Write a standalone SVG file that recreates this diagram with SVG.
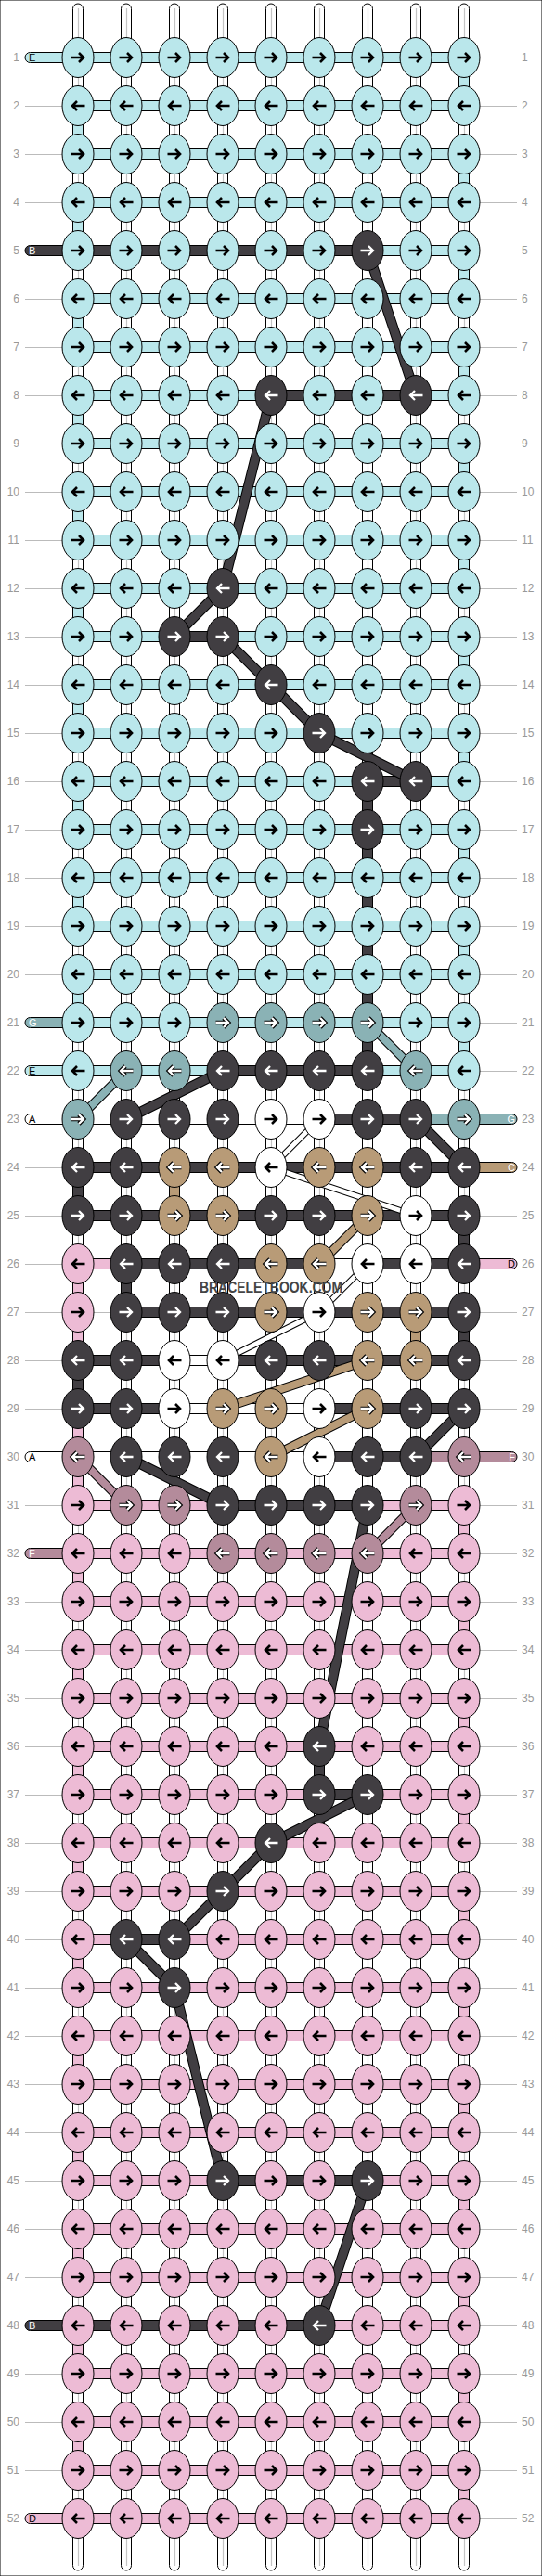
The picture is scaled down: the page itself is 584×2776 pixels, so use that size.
<svg xmlns="http://www.w3.org/2000/svg" xmlns:xlink="http://www.w3.org/1999/xlink" width="584" height="2776" viewBox="0 0 584 2776">
<style>
.C{fill:#bae7eb}.P{fill:#edbbd5}.D{fill:#413e42}.N{fill:#b89b77}.W{fill:#fff}.T{fill:#8ab2b5}.M{fill:#b48b9b}
rect,.sb,.e{stroke:#000;stroke-width:1}
.k{fill:none;stroke:#000;stroke-width:2.6}
.o{fill:none;stroke:#000;stroke-width:4.6}
.w{fill:none;stroke:#fff;stroke-width:2.3}
.lb{font-family:"Liberation Sans",Arial,sans-serif;font-size:12px;fill:#999}
.st{font-family:"Liberation Sans",Arial,sans-serif;font-size:11px}
.ob{fill:none;stroke:#000;stroke-width:11}
.ow{fill:none;stroke:#000;stroke-width:7}
.sD{fill:none;stroke:#413e42;stroke-width:9}
.sT{fill:none;stroke:#8ab2b5;stroke-width:8}
.sN{fill:none;stroke:#b89b77;stroke-width:8}
.sM{fill:none;stroke:#b48b9b;stroke-width:8}
.sW{fill:none;stroke:#fff;stroke-width:5}
.ob2{fill:none;stroke:#000;stroke-width:10}
</style>
<defs>
<path id="ar" d="M-7.5,0H5M1,-5L6,0L1,5"/>
<path id="al" d="M7.5,0H-5M-1,-5L-6,0L-1,5"/>
<ellipse id="E" rx="17" ry="21.5" class="e"/>
<g id="Cr"><use href="#E" class="C"/><use href="#ar" class="k"/></g>
<g id="Cl"><use href="#E" class="C"/><use href="#al" class="k"/></g>
<g id="Pr"><use href="#E" class="P"/><use href="#ar" class="k"/></g>
<g id="Pl"><use href="#E" class="P"/><use href="#al" class="k"/></g>
<g id="Wr"><use href="#E" class="W"/><use href="#ar" class="k"/></g>
<g id="Wl"><use href="#E" class="W"/><use href="#al" class="k"/></g>
<g id="Dr"><use href="#E" class="D"/><use href="#ar" class="w"/></g>
<g id="Dl"><use href="#E" class="D"/><use href="#al" class="w"/></g>
<g id="Nr"><use href="#E" class="N"/><use href="#ar" class="o"/><use href="#ar" class="w"/></g>
<g id="Nl"><use href="#E" class="N"/><use href="#al" class="o"/><use href="#al" class="w"/></g>
<g id="Tr"><use href="#E" class="T"/><use href="#ar" class="o"/><use href="#ar" class="w"/></g>
<g id="Tl"><use href="#E" class="T"/><use href="#al" class="o"/><use href="#al" class="w"/></g>
<g id="Mr"><use href="#E" class="M"/><use href="#ar" class="o"/><use href="#ar" class="w"/></g>
<g id="Ml"><use href="#E" class="M"/><use href="#al" class="o"/><use href="#al" class="w"/></g>
<path id="dD" d="M396,270L448,426M292,426L240,634M240,634L188,686M240,686L292,738M292,738L344,790M344,790L448,842M240,1154L136,1206M448,1206L500,1258M500,1518L448,1570M136,1570L240,1622M396,1622L344,1882M396,1934L292,1986M292,1986L240,2038M240,2038L188,2090M136,2090L188,2142M188,2142L240,2350M396,2350L344,2506"/>
<path id="dT" d="M396,1102L448,1154M136,1154L84,1206"/>
<path id="dN" d="M396,1310L344,1362M396,1466L240,1518M396,1518L292,1570"/>
<path id="dM" d="M84,1570L136,1622M448,1622L396,1674"/>
<path id="dW" d="M344,1206L292,1258M292,1258L448,1310M396,1362L344,1414M344,1414L240,1466"/>
</defs>
<rect width="584" height="2776" fill="#fff" stroke="none"/>
<g id="guides" transform="translate(0,0.5)" fill="none" stroke="#bbb" stroke-width="1">
<path d="M27 62h43M514 62h43M27 114h43M514 114h43M27 166h43M514 166h43M27 218h43M514 218h43M27 270h43M514 270h43M27 322h43M514 322h43M27 374h43M514 374h43M27 426h43M514 426h43M27 478h43M514 478h43M27 530h43M514 530h43M27 582h43M514 582h43M27 634h43M514 634h43M27 686h43M514 686h43M27 738h43M514 738h43M27 790h43M514 790h43M27 842h43M514 842h43M27 894h43M514 894h43M27 946h43M514 946h43M27 998h43M514 998h43M27 1050h43M514 1050h43M27 1102h43M514 1102h43M27 1154h43M514 1154h43M27 1206h43M514 1206h43M27 1258h43M514 1258h43M27 1310h43M514 1310h43M27 1362h43M514 1362h43M27 1414h93M514 1414h43M27 1466h43M514 1466h43M27 1518h43M514 1518h43M27 1570h43M514 1570h43M27 1622h43M514 1622h43M27 1674h43M514 1674h43M27 1726h43M514 1726h43M27 1778h43M514 1778h43M27 1830h43M514 1830h43M27 1882h43M514 1882h43M27 1934h43M514 1934h43M27 1986h43M514 1986h43M27 2038h43M514 2038h43M27 2090h43M514 2090h43M27 2142h43M514 2142h43M27 2194h43M514 2194h43M27 2246h43M514 2246h43M27 2298h43M514 2298h43M27 2350h43M514 2350h43M27 2402h43M514 2402h43M27 2454h43M514 2454h43M27 2506h43M514 2506h43M27 2558h43M514 2558h43M27 2610h43M514 2610h43M27 2662h43M514 2662h43M27 2714h43M514 2714h43"/>
</g>
<g id="connectors">
<g id="strands" class="W">
<rect x="78.5" y="4" width="11" height="2766" rx="5.5"/>
<rect x="130.5" y="4" width="11" height="2766" rx="5.5"/>
<rect x="182.5" y="4" width="11" height="2766" rx="5.5"/>
<rect x="234.5" y="4" width="11" height="2766" rx="5.5"/>
<rect x="286.5" y="4" width="11" height="2766" rx="5.5"/>
<rect x="338.5" y="4" width="11" height="2766" rx="5.5"/>
<rect x="390.5" y="4" width="11" height="2766" rx="5.5"/>
<rect x="442.5" y="4" width="11" height="2766" rx="5.5"/>
<rect x="494.5" y="4" width="11" height="2766" rx="5.5"/>
<path d="M84.5 9V2765M136.5 9V2765M188.5 9V2765M240.5 9V2765M292.5 9V2765M344.5 9V2765M396.5 9V2765M448.5 9V2765M500.5 9V2765" stroke="#c4c4c4" stroke-width="1.2" fill="none"/>
</g>
<g id="rows">
<rect class="C" x="84" y="56.5" width="416" height="11"/>
<rect class="C" x="84" y="108.5" width="416" height="11"/>
<rect class="C" x="84" y="160.5" width="416" height="11"/>
<rect class="C" x="84" y="212.5" width="416" height="11"/>
<rect class="C" x="84" y="264.5" width="416" height="11"/>
<rect class="D" x="84" y="264.5" width="312" height="11"/>
<rect class="C" x="84" y="316.5" width="416" height="11"/>
<rect class="C" x="84" y="368.5" width="416" height="11"/>
<rect class="C" x="84" y="420.5" width="416" height="11"/>
<rect class="D" x="292" y="420.5" width="156" height="11"/>
<rect class="C" x="84" y="472.5" width="416" height="11"/>
<rect class="C" x="84" y="524.5" width="416" height="11"/>
<rect class="C" x="84" y="576.5" width="416" height="11"/>
<rect class="C" x="84" y="628.5" width="416" height="11"/>
<rect class="C" x="84" y="680.5" width="416" height="11"/>
<rect class="D" x="188" y="680.5" width="52" height="11"/>
<rect class="C" x="84" y="732.5" width="416" height="11"/>
<rect class="C" x="84" y="784.5" width="416" height="11"/>
<rect class="C" x="84" y="836.5" width="416" height="11"/>
<rect class="D" x="396" y="836.5" width="52" height="11"/>
<rect class="C" x="84" y="888.5" width="416" height="11"/>
<rect class="C" x="84" y="940.5" width="416" height="11"/>
<rect class="C" x="84" y="992.5" width="416" height="11"/>
<rect class="C" x="84" y="1044.5" width="416" height="11"/>
<rect class="C" x="84" y="1096.5" width="416" height="11"/>
<rect class="C" x="84" y="1148.5" width="416" height="11"/>
<rect class="D" x="240" y="1148.5" width="156" height="11"/>
<rect class="W" x="84" y="1200.5" width="260" height="11"/>
<rect class="D" x="344" y="1200.5" width="104" height="11"/>
<rect class="T" x="448" y="1200.5" width="52" height="11"/>
<rect class="D" x="84" y="1252.5" width="416" height="11"/>
<rect class="D" x="84" y="1304.5" width="416" height="11"/>
<rect class="P" x="84" y="1356.5" width="52" height="11"/>
<rect class="D" x="136" y="1356.5" width="208" height="11"/>
<rect class="W" x="344" y="1356.5" width="52" height="11"/>
<rect class="D" x="396" y="1356.5" width="104" height="11"/>
<rect class="D" x="136" y="1408.5" width="364" height="11"/>
<rect class="D" x="84" y="1460.5" width="104" height="11"/>
<rect class="W" x="188" y="1460.5" width="52" height="11"/>
<rect class="D" x="240" y="1460.5" width="260" height="11"/>
<rect class="D" x="84" y="1512.5" width="104" height="11"/>
<rect class="W" x="188" y="1512.5" width="156" height="11"/>
<rect class="D" x="344" y="1512.5" width="156" height="11"/>
<rect class="W" x="84" y="1564.5" width="260" height="11"/>
<rect class="D" x="344" y="1564.5" width="104" height="11"/>
<rect class="M" x="448" y="1564.5" width="52" height="11"/>
<rect class="P" x="84" y="1616.5" width="416" height="11"/>
<rect class="D" x="240" y="1616.5" width="156" height="11"/>
<rect class="P" x="84" y="1668.5" width="416" height="11"/>
<rect class="P" x="84" y="1720.5" width="416" height="11"/>
<rect class="P" x="84" y="1772.5" width="416" height="11"/>
<rect class="P" x="84" y="1824.5" width="416" height="11"/>
<rect class="P" x="84" y="1876.5" width="416" height="11"/>
<rect class="P" x="84" y="1928.5" width="416" height="11"/>
<rect class="D" x="344" y="1928.5" width="52" height="11"/>
<rect class="P" x="84" y="1980.5" width="416" height="11"/>
<rect class="P" x="84" y="2032.5" width="416" height="11"/>
<rect class="P" x="84" y="2084.5" width="416" height="11"/>
<rect class="D" x="136" y="2084.5" width="52" height="11"/>
<rect class="P" x="84" y="2136.5" width="416" height="11"/>
<rect class="P" x="84" y="2188.5" width="416" height="11"/>
<rect class="P" x="84" y="2240.5" width="416" height="11"/>
<rect class="P" x="84" y="2292.5" width="416" height="11"/>
<rect class="P" x="84" y="2344.5" width="416" height="11"/>
<rect class="D" x="240" y="2344.5" width="156" height="11"/>
<rect class="P" x="84" y="2396.5" width="416" height="11"/>
<rect class="P" x="84" y="2448.5" width="416" height="11"/>
<rect class="P" x="84" y="2500.5" width="416" height="11"/>
<rect class="D" x="84" y="2500.5" width="260" height="11"/>
<rect class="P" x="84" y="2552.5" width="416" height="11"/>
<rect class="P" x="84" y="2604.5" width="416" height="11"/>
<rect class="P" x="84" y="2656.5" width="416" height="11"/>
<rect class="P" x="84" y="2708.5" width="416" height="11"/>
</g>
<g id="stubs">
<path class="sb C" d="M84,56.5H32.5A5.5,5.5 0 0 0 32.5,67.5H84Z"/>
<path class="sb D" d="M84,264.5H32.5A5.5,5.5 0 0 0 32.5,275.5H84Z"/>
<path class="sb T" d="M84,1096.5H32.5A5.5,5.5 0 0 0 32.5,1107.5H84Z"/>
<path class="sb C" d="M84,1148.5H32.5A5.5,5.5 0 0 0 32.5,1159.5H84Z"/>
<path class="sb W" d="M84,1200.5H32.5A5.5,5.5 0 0 0 32.5,1211.5H84Z"/>
<path class="sb W" d="M84,1564.5H32.5A5.5,5.5 0 0 0 32.5,1575.5H84Z"/>
<path class="sb M" d="M84,1668.5H32.5A5.5,5.5 0 0 0 32.5,1679.5H84Z"/>
<path class="sb D" d="M84,2500.5H32.5A5.5,5.5 0 0 0 32.5,2511.5H84Z"/>
<path class="sb P" d="M84,2708.5H32.5A5.5,5.5 0 0 0 32.5,2719.5H84Z"/>
<path class="sb T" d="M500,1200.5H551.5A5.5,5.5 0 0 1 551.5,1211.5H500Z"/>
<path class="sb N" d="M500,1252.5H551.5A5.5,5.5 0 0 1 551.5,1263.5H500Z"/>
<path class="sb P" d="M500,1356.5H551.5A5.5,5.5 0 0 1 551.5,1367.5H500Z"/>
<path class="sb M" d="M500,1564.5H551.5A5.5,5.5 0 0 1 551.5,1575.5H500Z"/>
</g>
<g id="verticals">
<rect class="C" x="494.5" y="77" width="11" height="22"/>
<rect class="C" x="494.5" y="181" width="11" height="22"/>
<rect class="C" x="494.5" y="285" width="11" height="22"/>
<rect class="C" x="494.5" y="389" width="11" height="22"/>
<rect class="C" x="494.5" y="493" width="11" height="22"/>
<rect class="C" x="494.5" y="597" width="11" height="22"/>
<rect class="C" x="494.5" y="701" width="11" height="22"/>
<rect class="C" x="494.5" y="805" width="11" height="22"/>
<rect class="C" x="494.5" y="909" width="11" height="22"/>
<rect class="C" x="494.5" y="1013" width="11" height="22"/>
<rect class="C" x="494.5" y="1117" width="11" height="22"/>
<rect class="C" x="78.5" y="129" width="11" height="22"/>
<rect class="C" x="78.5" y="233" width="11" height="22"/>
<rect class="C" x="78.5" y="337" width="11" height="22"/>
<rect class="C" x="78.5" y="441" width="11" height="22"/>
<rect class="C" x="78.5" y="545" width="11" height="22"/>
<rect class="C" x="78.5" y="649" width="11" height="22"/>
<rect class="C" x="78.5" y="753" width="11" height="22"/>
<rect class="C" x="78.5" y="857" width="11" height="22"/>
<rect class="C" x="78.5" y="961" width="11" height="22"/>
<rect class="C" x="78.5" y="1065" width="11" height="22"/>
<rect class="D" x="390.5" y="857" width="11" height="22"/>
<rect class="D" x="390.5" y="909" width="11" height="22"/>
<rect class="D" x="390.5" y="961" width="11" height="22"/>
<rect class="D" x="390.5" y="1013" width="11" height="22"/>
<rect class="D" x="390.5" y="1065" width="11" height="22"/>
<rect class="D" x="390.5" y="1117" width="11" height="22"/>
<rect class="D" x="78.5" y="1273" width="11" height="22"/>
<rect class="N" x="182.5" y="1273" width="11" height="22"/>
<rect class="D" x="494.5" y="1325" width="11" height="22"/>
<rect class="P" x="78.5" y="1377" width="11" height="22"/>
<rect class="D" x="130.5" y="1377" width="11" height="22"/>
<rect class="P" x="78.5" y="1429" width="11" height="22"/>
<rect class="N" x="442.5" y="1429" width="11" height="22"/>
<rect class="D" x="494.5" y="1429" width="11" height="22"/>
<rect class="D" x="78.5" y="1481" width="11" height="22"/>
<rect class="P" x="78.5" y="1533" width="11" height="22"/>
<rect class="P" x="78.5" y="1585" width="11" height="22"/>
<rect class="P" x="494.5" y="1637" width="11" height="22"/>
<rect class="P" x="78.5" y="1689" width="11" height="22"/>
<rect class="P" x="494.5" y="1741" width="11" height="22"/>
<rect class="P" x="494.5" y="1845" width="11" height="22"/>
<rect class="P" x="494.5" y="1949" width="11" height="22"/>
<rect class="P" x="494.5" y="2053" width="11" height="22"/>
<rect class="P" x="494.5" y="2157" width="11" height="22"/>
<rect class="P" x="494.5" y="2261" width="11" height="22"/>
<rect class="P" x="494.5" y="2365" width="11" height="22"/>
<rect class="P" x="494.5" y="2469" width="11" height="22"/>
<rect class="P" x="494.5" y="2573" width="11" height="22"/>
<rect class="P" x="494.5" y="2677" width="11" height="22"/>
<rect class="P" x="78.5" y="1793" width="11" height="22"/>
<rect class="P" x="78.5" y="1897" width="11" height="22"/>
<rect class="P" x="78.5" y="2001" width="11" height="22"/>
<rect class="P" x="78.5" y="2105" width="11" height="22"/>
<rect class="P" x="78.5" y="2209" width="11" height="22"/>
<rect class="P" x="78.5" y="2313" width="11" height="22"/>
<rect class="P" x="78.5" y="2417" width="11" height="22"/>
<rect class="P" x="78.5" y="2521" width="11" height="22"/>
<rect class="P" x="78.5" y="2625" width="11" height="22"/>
<rect class="D" x="338.5" y="1897" width="11" height="22"/>
</g>
<g id="diagonals">
<use href="#dD" class="ob"/><use href="#dT" class="ob2"/><use href="#dN" class="ob2"/><use href="#dM" class="ob2"/><use href="#dW" class="ow"/>
<use href="#dD" class="sD"/><use href="#dT" class="sT"/><use href="#dN" class="sN"/><use href="#dM" class="sM"/><use href="#dW" class="sW"/>
</g>
</g>
<g id="nodes">
<g id="n1_1"><use href="#Cr" x="84" y="62"/></g><g id="n1_2"><use href="#Cr" x="136" y="62"/></g><g id="n1_3"><use href="#Cr" x="188" y="62"/></g><g id="n1_4"><use href="#Cr" x="240" y="62"/></g><g id="n1_5"><use href="#Cr" x="292" y="62"/></g><g id="n1_6"><use href="#Cr" x="344" y="62"/></g><g id="n1_7"><use href="#Cr" x="396" y="62"/></g><g id="n1_8"><use href="#Cr" x="448" y="62"/></g><g id="n1_9"><use href="#Cr" x="500" y="62"/></g>
<g id="n2_1"><use href="#Cl" x="84" y="114"/></g><g id="n2_2"><use href="#Cl" x="136" y="114"/></g><g id="n2_3"><use href="#Cl" x="188" y="114"/></g><g id="n2_4"><use href="#Cl" x="240" y="114"/></g><g id="n2_5"><use href="#Cl" x="292" y="114"/></g><g id="n2_6"><use href="#Cl" x="344" y="114"/></g><g id="n2_7"><use href="#Cl" x="396" y="114"/></g><g id="n2_8"><use href="#Cl" x="448" y="114"/></g><g id="n2_9"><use href="#Cl" x="500" y="114"/></g>
<g id="n3_1"><use href="#Cr" x="84" y="166"/></g><g id="n3_2"><use href="#Cr" x="136" y="166"/></g><g id="n3_3"><use href="#Cr" x="188" y="166"/></g><g id="n3_4"><use href="#Cr" x="240" y="166"/></g><g id="n3_5"><use href="#Cr" x="292" y="166"/></g><g id="n3_6"><use href="#Cr" x="344" y="166"/></g><g id="n3_7"><use href="#Cr" x="396" y="166"/></g><g id="n3_8"><use href="#Cr" x="448" y="166"/></g><g id="n3_9"><use href="#Cr" x="500" y="166"/></g>
<g id="n4_1"><use href="#Cl" x="84" y="218"/></g><g id="n4_2"><use href="#Cl" x="136" y="218"/></g><g id="n4_3"><use href="#Cl" x="188" y="218"/></g><g id="n4_4"><use href="#Cl" x="240" y="218"/></g><g id="n4_5"><use href="#Cl" x="292" y="218"/></g><g id="n4_6"><use href="#Cl" x="344" y="218"/></g><g id="n4_7"><use href="#Cl" x="396" y="218"/></g><g id="n4_8"><use href="#Cl" x="448" y="218"/></g><g id="n4_9"><use href="#Cl" x="500" y="218"/></g>
<g id="n5_1"><use href="#Cr" x="84" y="270"/></g><g id="n5_2"><use href="#Cr" x="136" y="270"/></g><g id="n5_3"><use href="#Cr" x="188" y="270"/></g><g id="n5_4"><use href="#Cr" x="240" y="270"/></g><g id="n5_5"><use href="#Cr" x="292" y="270"/></g><g id="n5_6"><use href="#Cr" x="344" y="270"/></g><g id="n5_7"><use href="#Dr" x="396" y="270"/></g><g id="n5_8"><use href="#Cr" x="448" y="270"/></g><g id="n5_9"><use href="#Cr" x="500" y="270"/></g>
<g id="n6_1"><use href="#Cl" x="84" y="322"/></g><g id="n6_2"><use href="#Cl" x="136" y="322"/></g><g id="n6_3"><use href="#Cl" x="188" y="322"/></g><g id="n6_4"><use href="#Cl" x="240" y="322"/></g><g id="n6_5"><use href="#Cl" x="292" y="322"/></g><g id="n6_6"><use href="#Cl" x="344" y="322"/></g><g id="n6_7"><use href="#Cl" x="396" y="322"/></g><g id="n6_8"><use href="#Cl" x="448" y="322"/></g><g id="n6_9"><use href="#Cl" x="500" y="322"/></g>
<g id="n7_1"><use href="#Cr" x="84" y="374"/></g><g id="n7_2"><use href="#Cr" x="136" y="374"/></g><g id="n7_3"><use href="#Cr" x="188" y="374"/></g><g id="n7_4"><use href="#Cr" x="240" y="374"/></g><g id="n7_5"><use href="#Cr" x="292" y="374"/></g><g id="n7_6"><use href="#Cr" x="344" y="374"/></g><g id="n7_7"><use href="#Cr" x="396" y="374"/></g><g id="n7_8"><use href="#Cr" x="448" y="374"/></g><g id="n7_9"><use href="#Cr" x="500" y="374"/></g>
<g id="n8_1"><use href="#Cl" x="84" y="426"/></g><g id="n8_2"><use href="#Cl" x="136" y="426"/></g><g id="n8_3"><use href="#Cl" x="188" y="426"/></g><g id="n8_4"><use href="#Cl" x="240" y="426"/></g><g id="n8_5"><use href="#Dl" x="292" y="426"/></g><g id="n8_6"><use href="#Cl" x="344" y="426"/></g><g id="n8_7"><use href="#Cl" x="396" y="426"/></g><g id="n8_8"><use href="#Dl" x="448" y="426"/></g><g id="n8_9"><use href="#Cl" x="500" y="426"/></g>
<g id="n9_1"><use href="#Cr" x="84" y="478"/></g><g id="n9_2"><use href="#Cr" x="136" y="478"/></g><g id="n9_3"><use href="#Cr" x="188" y="478"/></g><g id="n9_4"><use href="#Cr" x="240" y="478"/></g><g id="n9_5"><use href="#Cr" x="292" y="478"/></g><g id="n9_6"><use href="#Cr" x="344" y="478"/></g><g id="n9_7"><use href="#Cr" x="396" y="478"/></g><g id="n9_8"><use href="#Cr" x="448" y="478"/></g><g id="n9_9"><use href="#Cr" x="500" y="478"/></g>
<g id="n10_1"><use href="#Cl" x="84" y="530"/></g><g id="n10_2"><use href="#Cl" x="136" y="530"/></g><g id="n10_3"><use href="#Cl" x="188" y="530"/></g><g id="n10_4"><use href="#Cl" x="240" y="530"/></g><g id="n10_5"><use href="#Cl" x="292" y="530"/></g><g id="n10_6"><use href="#Cl" x="344" y="530"/></g><g id="n10_7"><use href="#Cl" x="396" y="530"/></g><g id="n10_8"><use href="#Cl" x="448" y="530"/></g><g id="n10_9"><use href="#Cl" x="500" y="530"/></g>
<g id="n11_1"><use href="#Cr" x="84" y="582"/></g><g id="n11_2"><use href="#Cr" x="136" y="582"/></g><g id="n11_3"><use href="#Cr" x="188" y="582"/></g><g id="n11_4"><use href="#Cr" x="240" y="582"/></g><g id="n11_5"><use href="#Cr" x="292" y="582"/></g><g id="n11_6"><use href="#Cr" x="344" y="582"/></g><g id="n11_7"><use href="#Cr" x="396" y="582"/></g><g id="n11_8"><use href="#Cr" x="448" y="582"/></g><g id="n11_9"><use href="#Cr" x="500" y="582"/></g>
<g id="n12_1"><use href="#Cl" x="84" y="634"/></g><g id="n12_2"><use href="#Cl" x="136" y="634"/></g><g id="n12_3"><use href="#Cl" x="188" y="634"/></g><g id="n12_4"><use href="#Dl" x="240" y="634"/></g><g id="n12_5"><use href="#Cl" x="292" y="634"/></g><g id="n12_6"><use href="#Cl" x="344" y="634"/></g><g id="n12_7"><use href="#Cl" x="396" y="634"/></g><g id="n12_8"><use href="#Cl" x="448" y="634"/></g><g id="n12_9"><use href="#Cl" x="500" y="634"/></g>
<g id="n13_1"><use href="#Cr" x="84" y="686"/></g><g id="n13_2"><use href="#Cr" x="136" y="686"/></g><g id="n13_3"><use href="#Dr" x="188" y="686"/></g><g id="n13_4"><use href="#Dr" x="240" y="686"/></g><g id="n13_5"><use href="#Cr" x="292" y="686"/></g><g id="n13_6"><use href="#Cr" x="344" y="686"/></g><g id="n13_7"><use href="#Cr" x="396" y="686"/></g><g id="n13_8"><use href="#Cr" x="448" y="686"/></g><g id="n13_9"><use href="#Cr" x="500" y="686"/></g>
<g id="n14_1"><use href="#Cl" x="84" y="738"/></g><g id="n14_2"><use href="#Cl" x="136" y="738"/></g><g id="n14_3"><use href="#Cl" x="188" y="738"/></g><g id="n14_4"><use href="#Cl" x="240" y="738"/></g><g id="n14_5"><use href="#Dl" x="292" y="738"/></g><g id="n14_6"><use href="#Cl" x="344" y="738"/></g><g id="n14_7"><use href="#Cl" x="396" y="738"/></g><g id="n14_8"><use href="#Cl" x="448" y="738"/></g><g id="n14_9"><use href="#Cl" x="500" y="738"/></g>
<g id="n15_1"><use href="#Cr" x="84" y="790"/></g><g id="n15_2"><use href="#Cr" x="136" y="790"/></g><g id="n15_3"><use href="#Cr" x="188" y="790"/></g><g id="n15_4"><use href="#Cr" x="240" y="790"/></g><g id="n15_5"><use href="#Cr" x="292" y="790"/></g><g id="n15_6"><use href="#Dr" x="344" y="790"/></g><g id="n15_7"><use href="#Cr" x="396" y="790"/></g><g id="n15_8"><use href="#Cr" x="448" y="790"/></g><g id="n15_9"><use href="#Cr" x="500" y="790"/></g>
<g id="n16_1"><use href="#Cl" x="84" y="842"/></g><g id="n16_2"><use href="#Cl" x="136" y="842"/></g><g id="n16_3"><use href="#Cl" x="188" y="842"/></g><g id="n16_4"><use href="#Cl" x="240" y="842"/></g><g id="n16_5"><use href="#Cl" x="292" y="842"/></g><g id="n16_6"><use href="#Cl" x="344" y="842"/></g><g id="n16_7"><use href="#Dl" x="396" y="842"/></g><g id="n16_8"><use href="#Dl" x="448" y="842"/></g><g id="n16_9"><use href="#Cl" x="500" y="842"/></g>
<g id="n17_1"><use href="#Cr" x="84" y="894"/></g><g id="n17_2"><use href="#Cr" x="136" y="894"/></g><g id="n17_3"><use href="#Cr" x="188" y="894"/></g><g id="n17_4"><use href="#Cr" x="240" y="894"/></g><g id="n17_5"><use href="#Cr" x="292" y="894"/></g><g id="n17_6"><use href="#Cr" x="344" y="894"/></g><g id="n17_7"><use href="#Dr" x="396" y="894"/></g><g id="n17_8"><use href="#Cr" x="448" y="894"/></g><g id="n17_9"><use href="#Cr" x="500" y="894"/></g>
<g id="n18_1"><use href="#Cl" x="84" y="946"/></g><g id="n18_2"><use href="#Cl" x="136" y="946"/></g><g id="n18_3"><use href="#Cl" x="188" y="946"/></g><g id="n18_4"><use href="#Cl" x="240" y="946"/></g><g id="n18_5"><use href="#Cl" x="292" y="946"/></g><g id="n18_6"><use href="#Cl" x="344" y="946"/></g><g id="n18_7"><use href="#Cl" x="396" y="946"/></g><g id="n18_8"><use href="#Cl" x="448" y="946"/></g><g id="n18_9"><use href="#Cl" x="500" y="946"/></g>
<g id="n19_1"><use href="#Cr" x="84" y="998"/></g><g id="n19_2"><use href="#Cr" x="136" y="998"/></g><g id="n19_3"><use href="#Cr" x="188" y="998"/></g><g id="n19_4"><use href="#Cr" x="240" y="998"/></g><g id="n19_5"><use href="#Cr" x="292" y="998"/></g><g id="n19_6"><use href="#Cr" x="344" y="998"/></g><g id="n19_7"><use href="#Cr" x="396" y="998"/></g><g id="n19_8"><use href="#Cr" x="448" y="998"/></g><g id="n19_9"><use href="#Cr" x="500" y="998"/></g>
<g id="n20_1"><use href="#Cl" x="84" y="1050"/></g><g id="n20_2"><use href="#Cl" x="136" y="1050"/></g><g id="n20_3"><use href="#Cl" x="188" y="1050"/></g><g id="n20_4"><use href="#Cl" x="240" y="1050"/></g><g id="n20_5"><use href="#Cl" x="292" y="1050"/></g><g id="n20_6"><use href="#Cl" x="344" y="1050"/></g><g id="n20_7"><use href="#Cl" x="396" y="1050"/></g><g id="n20_8"><use href="#Cl" x="448" y="1050"/></g><g id="n20_9"><use href="#Cl" x="500" y="1050"/></g>
<g id="n21_1"><use href="#Cr" x="84" y="1102"/></g><g id="n21_2"><use href="#Cr" x="136" y="1102"/></g><g id="n21_3"><use href="#Cr" x="188" y="1102"/></g><g id="n21_4"><use href="#Tr" x="240" y="1102"/></g><g id="n21_5"><use href="#Tr" x="292" y="1102"/></g><g id="n21_6"><use href="#Tr" x="344" y="1102"/></g><g id="n21_7"><use href="#Tr" x="396" y="1102"/></g><g id="n21_8"><use href="#Cr" x="448" y="1102"/></g><g id="n21_9"><use href="#Cr" x="500" y="1102"/></g>
<g id="n22_1"><use href="#Cl" x="84" y="1154"/></g><g id="n22_2"><use href="#Tl" x="136" y="1154"/></g><g id="n22_3"><use href="#Tl" x="188" y="1154"/></g><g id="n22_4"><use href="#Dl" x="240" y="1154"/></g><g id="n22_5"><use href="#Dl" x="292" y="1154"/></g><g id="n22_6"><use href="#Dl" x="344" y="1154"/></g><g id="n22_7"><use href="#Dl" x="396" y="1154"/></g><g id="n22_8"><use href="#Tl" x="448" y="1154"/></g><g id="n22_9"><use href="#Cl" x="500" y="1154"/></g>
<g id="n23_1"><use href="#Tr" x="84" y="1206"/></g><g id="n23_2"><use href="#Dr" x="136" y="1206"/></g><g id="n23_3"><use href="#Dr" x="188" y="1206"/></g><g id="n23_4"><use href="#Dr" x="240" y="1206"/></g><g id="n23_5"><use href="#Wr" x="292" y="1206"/></g><g id="n23_6"><use href="#Wr" x="344" y="1206"/></g><g id="n23_7"><use href="#Dr" x="396" y="1206"/></g><g id="n23_8"><use href="#Dr" x="448" y="1206"/></g><g id="n23_9"><use href="#Tr" x="500" y="1206"/></g>
<g id="n24_1"><use href="#Dl" x="84" y="1258"/></g><g id="n24_2"><use href="#Dl" x="136" y="1258"/></g><g id="n24_3"><use href="#Nl" x="188" y="1258"/></g><g id="n24_4"><use href="#Nl" x="240" y="1258"/></g><g id="n24_5"><use href="#Wl" x="292" y="1258"/></g><g id="n24_6"><use href="#Nl" x="344" y="1258"/></g><g id="n24_7"><use href="#Nl" x="396" y="1258"/></g><g id="n24_8"><use href="#Dl" x="448" y="1258"/></g><g id="n24_9"><use href="#Dl" x="500" y="1258"/></g>
<g id="n25_1"><use href="#Dr" x="84" y="1310"/></g><g id="n25_2"><use href="#Dr" x="136" y="1310"/></g><g id="n25_3"><use href="#Nr" x="188" y="1310"/></g><g id="n25_4"><use href="#Nr" x="240" y="1310"/></g><g id="n25_5"><use href="#Dr" x="292" y="1310"/></g><g id="n25_6"><use href="#Dr" x="344" y="1310"/></g><g id="n25_7"><use href="#Nr" x="396" y="1310"/></g><g id="n25_8"><use href="#Wr" x="448" y="1310"/></g><g id="n25_9"><use href="#Dr" x="500" y="1310"/></g>
<g id="n26_1"><use href="#Pl" x="84" y="1362"/></g><g id="n26_2"><use href="#Dl" x="136" y="1362"/></g><g id="n26_3"><use href="#Dl" x="188" y="1362"/></g><g id="n26_4"><use href="#Dl" x="240" y="1362"/></g><g id="n26_5"><use href="#Nl" x="292" y="1362"/></g><g id="n26_6"><use href="#Nl" x="344" y="1362"/></g><g id="n26_7"><use href="#Wl" x="396" y="1362"/></g><g id="n26_8"><use href="#Wl" x="448" y="1362"/></g><g id="n26_9"><use href="#Dl" x="500" y="1362"/></g>
<g id="n27_1"><use href="#Pr" x="84" y="1414"/></g><g id="n27_2"><use href="#Dr" x="136" y="1414"/></g><g id="n27_3"><use href="#Dr" x="188" y="1414"/></g><g id="n27_4"><use href="#Dr" x="240" y="1414"/></g><g id="n27_5"><use href="#Nr" x="292" y="1414"/></g><g id="n27_6"><use href="#Wr" x="344" y="1414"/></g><g id="n27_7"><use href="#Nr" x="396" y="1414"/></g><g id="n27_8"><use href="#Nr" x="448" y="1414"/></g><g id="n27_9"><use href="#Dr" x="500" y="1414"/></g>
<g id="n28_1"><use href="#Dl" x="84" y="1466"/></g><g id="n28_2"><use href="#Dl" x="136" y="1466"/></g><g id="n28_3"><use href="#Wl" x="188" y="1466"/></g><g id="n28_4"><use href="#Wl" x="240" y="1466"/></g><g id="n28_5"><use href="#Dl" x="292" y="1466"/></g><g id="n28_6"><use href="#Dl" x="344" y="1466"/></g><g id="n28_7"><use href="#Nl" x="396" y="1466"/></g><g id="n28_8"><use href="#Nl" x="448" y="1466"/></g><g id="n28_9"><use href="#Dl" x="500" y="1466"/></g>
<g id="n29_1"><use href="#Dr" x="84" y="1518"/></g><g id="n29_2"><use href="#Dr" x="136" y="1518"/></g><g id="n29_3"><use href="#Wr" x="188" y="1518"/></g><g id="n29_4"><use href="#Nr" x="240" y="1518"/></g><g id="n29_5"><use href="#Nr" x="292" y="1518"/></g><g id="n29_6"><use href="#Wr" x="344" y="1518"/></g><g id="n29_7"><use href="#Nr" x="396" y="1518"/></g><g id="n29_8"><use href="#Dr" x="448" y="1518"/></g><g id="n29_9"><use href="#Dr" x="500" y="1518"/></g>
<g id="n30_1"><use href="#Ml" x="84" y="1570"/></g><g id="n30_2"><use href="#Dl" x="136" y="1570"/></g><g id="n30_3"><use href="#Dl" x="188" y="1570"/></g><g id="n30_4"><use href="#Dl" x="240" y="1570"/></g><g id="n30_5"><use href="#Nl" x="292" y="1570"/></g><g id="n30_6"><use href="#Wl" x="344" y="1570"/></g><g id="n30_7"><use href="#Dl" x="396" y="1570"/></g><g id="n30_8"><use href="#Dl" x="448" y="1570"/></g><g id="n30_9"><use href="#Ml" x="500" y="1570"/></g>
<g id="n31_1"><use href="#Pr" x="84" y="1622"/></g><g id="n31_2"><use href="#Mr" x="136" y="1622"/></g><g id="n31_3"><use href="#Mr" x="188" y="1622"/></g><g id="n31_4"><use href="#Dr" x="240" y="1622"/></g><g id="n31_5"><use href="#Dr" x="292" y="1622"/></g><g id="n31_6"><use href="#Dr" x="344" y="1622"/></g><g id="n31_7"><use href="#Dr" x="396" y="1622"/></g><g id="n31_8"><use href="#Mr" x="448" y="1622"/></g><g id="n31_9"><use href="#Pr" x="500" y="1622"/></g>
<g id="n32_1"><use href="#Pl" x="84" y="1674"/></g><g id="n32_2"><use href="#Pl" x="136" y="1674"/></g><g id="n32_3"><use href="#Pl" x="188" y="1674"/></g><g id="n32_4"><use href="#Ml" x="240" y="1674"/></g><g id="n32_5"><use href="#Ml" x="292" y="1674"/></g><g id="n32_6"><use href="#Ml" x="344" y="1674"/></g><g id="n32_7"><use href="#Ml" x="396" y="1674"/></g><g id="n32_8"><use href="#Pl" x="448" y="1674"/></g><g id="n32_9"><use href="#Pl" x="500" y="1674"/></g>
<g id="n33_1"><use href="#Pr" x="84" y="1726"/></g><g id="n33_2"><use href="#Pr" x="136" y="1726"/></g><g id="n33_3"><use href="#Pr" x="188" y="1726"/></g><g id="n33_4"><use href="#Pr" x="240" y="1726"/></g><g id="n33_5"><use href="#Pr" x="292" y="1726"/></g><g id="n33_6"><use href="#Pr" x="344" y="1726"/></g><g id="n33_7"><use href="#Pr" x="396" y="1726"/></g><g id="n33_8"><use href="#Pr" x="448" y="1726"/></g><g id="n33_9"><use href="#Pr" x="500" y="1726"/></g>
<g id="n34_1"><use href="#Pl" x="84" y="1778"/></g><g id="n34_2"><use href="#Pl" x="136" y="1778"/></g><g id="n34_3"><use href="#Pl" x="188" y="1778"/></g><g id="n34_4"><use href="#Pl" x="240" y="1778"/></g><g id="n34_5"><use href="#Pl" x="292" y="1778"/></g><g id="n34_6"><use href="#Pl" x="344" y="1778"/></g><g id="n34_7"><use href="#Pl" x="396" y="1778"/></g><g id="n34_8"><use href="#Pl" x="448" y="1778"/></g><g id="n34_9"><use href="#Pl" x="500" y="1778"/></g>
<g id="n35_1"><use href="#Pr" x="84" y="1830"/></g><g id="n35_2"><use href="#Pr" x="136" y="1830"/></g><g id="n35_3"><use href="#Pr" x="188" y="1830"/></g><g id="n35_4"><use href="#Pr" x="240" y="1830"/></g><g id="n35_5"><use href="#Pr" x="292" y="1830"/></g><g id="n35_6"><use href="#Pr" x="344" y="1830"/></g><g id="n35_7"><use href="#Pr" x="396" y="1830"/></g><g id="n35_8"><use href="#Pr" x="448" y="1830"/></g><g id="n35_9"><use href="#Pr" x="500" y="1830"/></g>
<g id="n36_1"><use href="#Pl" x="84" y="1882"/></g><g id="n36_2"><use href="#Pl" x="136" y="1882"/></g><g id="n36_3"><use href="#Pl" x="188" y="1882"/></g><g id="n36_4"><use href="#Pl" x="240" y="1882"/></g><g id="n36_5"><use href="#Pl" x="292" y="1882"/></g><g id="n36_6"><use href="#Dl" x="344" y="1882"/></g><g id="n36_7"><use href="#Pl" x="396" y="1882"/></g><g id="n36_8"><use href="#Pl" x="448" y="1882"/></g><g id="n36_9"><use href="#Pl" x="500" y="1882"/></g>
<g id="n37_1"><use href="#Pr" x="84" y="1934"/></g><g id="n37_2"><use href="#Pr" x="136" y="1934"/></g><g id="n37_3"><use href="#Pr" x="188" y="1934"/></g><g id="n37_4"><use href="#Pr" x="240" y="1934"/></g><g id="n37_5"><use href="#Pr" x="292" y="1934"/></g><g id="n37_6"><use href="#Dr" x="344" y="1934"/></g><g id="n37_7"><use href="#Dr" x="396" y="1934"/></g><g id="n37_8"><use href="#Pr" x="448" y="1934"/></g><g id="n37_9"><use href="#Pr" x="500" y="1934"/></g>
<g id="n38_1"><use href="#Pl" x="84" y="1986"/></g><g id="n38_2"><use href="#Pl" x="136" y="1986"/></g><g id="n38_3"><use href="#Pl" x="188" y="1986"/></g><g id="n38_4"><use href="#Pl" x="240" y="1986"/></g><g id="n38_5"><use href="#Dl" x="292" y="1986"/></g><g id="n38_6"><use href="#Pl" x="344" y="1986"/></g><g id="n38_7"><use href="#Pl" x="396" y="1986"/></g><g id="n38_8"><use href="#Pl" x="448" y="1986"/></g><g id="n38_9"><use href="#Pl" x="500" y="1986"/></g>
<g id="n39_1"><use href="#Pr" x="84" y="2038"/></g><g id="n39_2"><use href="#Pr" x="136" y="2038"/></g><g id="n39_3"><use href="#Pr" x="188" y="2038"/></g><g id="n39_4"><use href="#Dr" x="240" y="2038"/></g><g id="n39_5"><use href="#Pr" x="292" y="2038"/></g><g id="n39_6"><use href="#Pr" x="344" y="2038"/></g><g id="n39_7"><use href="#Pr" x="396" y="2038"/></g><g id="n39_8"><use href="#Pr" x="448" y="2038"/></g><g id="n39_9"><use href="#Pr" x="500" y="2038"/></g>
<g id="n40_1"><use href="#Pl" x="84" y="2090"/></g><g id="n40_2"><use href="#Dl" x="136" y="2090"/></g><g id="n40_3"><use href="#Dl" x="188" y="2090"/></g><g id="n40_4"><use href="#Pl" x="240" y="2090"/></g><g id="n40_5"><use href="#Pl" x="292" y="2090"/></g><g id="n40_6"><use href="#Pl" x="344" y="2090"/></g><g id="n40_7"><use href="#Pl" x="396" y="2090"/></g><g id="n40_8"><use href="#Pl" x="448" y="2090"/></g><g id="n40_9"><use href="#Pl" x="500" y="2090"/></g>
<g id="n41_1"><use href="#Pr" x="84" y="2142"/></g><g id="n41_2"><use href="#Pr" x="136" y="2142"/></g><g id="n41_3"><use href="#Dr" x="188" y="2142"/></g><g id="n41_4"><use href="#Pr" x="240" y="2142"/></g><g id="n41_5"><use href="#Pr" x="292" y="2142"/></g><g id="n41_6"><use href="#Pr" x="344" y="2142"/></g><g id="n41_7"><use href="#Pr" x="396" y="2142"/></g><g id="n41_8"><use href="#Pr" x="448" y="2142"/></g><g id="n41_9"><use href="#Pr" x="500" y="2142"/></g>
<g id="n42_1"><use href="#Pl" x="84" y="2194"/></g><g id="n42_2"><use href="#Pl" x="136" y="2194"/></g><g id="n42_3"><use href="#Pl" x="188" y="2194"/></g><g id="n42_4"><use href="#Pl" x="240" y="2194"/></g><g id="n42_5"><use href="#Pl" x="292" y="2194"/></g><g id="n42_6"><use href="#Pl" x="344" y="2194"/></g><g id="n42_7"><use href="#Pl" x="396" y="2194"/></g><g id="n42_8"><use href="#Pl" x="448" y="2194"/></g><g id="n42_9"><use href="#Pl" x="500" y="2194"/></g>
<g id="n43_1"><use href="#Pr" x="84" y="2246"/></g><g id="n43_2"><use href="#Pr" x="136" y="2246"/></g><g id="n43_3"><use href="#Pr" x="188" y="2246"/></g><g id="n43_4"><use href="#Pr" x="240" y="2246"/></g><g id="n43_5"><use href="#Pr" x="292" y="2246"/></g><g id="n43_6"><use href="#Pr" x="344" y="2246"/></g><g id="n43_7"><use href="#Pr" x="396" y="2246"/></g><g id="n43_8"><use href="#Pr" x="448" y="2246"/></g><g id="n43_9"><use href="#Pr" x="500" y="2246"/></g>
<g id="n44_1"><use href="#Pl" x="84" y="2298"/></g><g id="n44_2"><use href="#Pl" x="136" y="2298"/></g><g id="n44_3"><use href="#Pl" x="188" y="2298"/></g><g id="n44_4"><use href="#Pl" x="240" y="2298"/></g><g id="n44_5"><use href="#Pl" x="292" y="2298"/></g><g id="n44_6"><use href="#Pl" x="344" y="2298"/></g><g id="n44_7"><use href="#Pl" x="396" y="2298"/></g><g id="n44_8"><use href="#Pl" x="448" y="2298"/></g><g id="n44_9"><use href="#Pl" x="500" y="2298"/></g>
<g id="n45_1"><use href="#Pr" x="84" y="2350"/></g><g id="n45_2"><use href="#Pr" x="136" y="2350"/></g><g id="n45_3"><use href="#Pr" x="188" y="2350"/></g><g id="n45_4"><use href="#Dr" x="240" y="2350"/></g><g id="n45_5"><use href="#Pr" x="292" y="2350"/></g><g id="n45_6"><use href="#Pr" x="344" y="2350"/></g><g id="n45_7"><use href="#Dr" x="396" y="2350"/></g><g id="n45_8"><use href="#Pr" x="448" y="2350"/></g><g id="n45_9"><use href="#Pr" x="500" y="2350"/></g>
<g id="n46_1"><use href="#Pl" x="84" y="2402"/></g><g id="n46_2"><use href="#Pl" x="136" y="2402"/></g><g id="n46_3"><use href="#Pl" x="188" y="2402"/></g><g id="n46_4"><use href="#Pl" x="240" y="2402"/></g><g id="n46_5"><use href="#Pl" x="292" y="2402"/></g><g id="n46_6"><use href="#Pl" x="344" y="2402"/></g><g id="n46_7"><use href="#Pl" x="396" y="2402"/></g><g id="n46_8"><use href="#Pl" x="448" y="2402"/></g><g id="n46_9"><use href="#Pl" x="500" y="2402"/></g>
<g id="n47_1"><use href="#Pr" x="84" y="2454"/></g><g id="n47_2"><use href="#Pr" x="136" y="2454"/></g><g id="n47_3"><use href="#Pr" x="188" y="2454"/></g><g id="n47_4"><use href="#Pr" x="240" y="2454"/></g><g id="n47_5"><use href="#Pr" x="292" y="2454"/></g><g id="n47_6"><use href="#Pr" x="344" y="2454"/></g><g id="n47_7"><use href="#Pr" x="396" y="2454"/></g><g id="n47_8"><use href="#Pr" x="448" y="2454"/></g><g id="n47_9"><use href="#Pr" x="500" y="2454"/></g>
<g id="n48_1"><use href="#Pl" x="84" y="2506"/></g><g id="n48_2"><use href="#Pl" x="136" y="2506"/></g><g id="n48_3"><use href="#Pl" x="188" y="2506"/></g><g id="n48_4"><use href="#Pl" x="240" y="2506"/></g><g id="n48_5"><use href="#Pl" x="292" y="2506"/></g><g id="n48_6"><use href="#Dl" x="344" y="2506"/></g><g id="n48_7"><use href="#Pl" x="396" y="2506"/></g><g id="n48_8"><use href="#Pl" x="448" y="2506"/></g><g id="n48_9"><use href="#Pl" x="500" y="2506"/></g>
<g id="n49_1"><use href="#Pr" x="84" y="2558"/></g><g id="n49_2"><use href="#Pr" x="136" y="2558"/></g><g id="n49_3"><use href="#Pr" x="188" y="2558"/></g><g id="n49_4"><use href="#Pr" x="240" y="2558"/></g><g id="n49_5"><use href="#Pr" x="292" y="2558"/></g><g id="n49_6"><use href="#Pr" x="344" y="2558"/></g><g id="n49_7"><use href="#Pr" x="396" y="2558"/></g><g id="n49_8"><use href="#Pr" x="448" y="2558"/></g><g id="n49_9"><use href="#Pr" x="500" y="2558"/></g>
<g id="n50_1"><use href="#Pl" x="84" y="2610"/></g><g id="n50_2"><use href="#Pl" x="136" y="2610"/></g><g id="n50_3"><use href="#Pl" x="188" y="2610"/></g><g id="n50_4"><use href="#Pl" x="240" y="2610"/></g><g id="n50_5"><use href="#Pl" x="292" y="2610"/></g><g id="n50_6"><use href="#Pl" x="344" y="2610"/></g><g id="n50_7"><use href="#Pl" x="396" y="2610"/></g><g id="n50_8"><use href="#Pl" x="448" y="2610"/></g><g id="n50_9"><use href="#Pl" x="500" y="2610"/></g>
<g id="n51_1"><use href="#Pr" x="84" y="2662"/></g><g id="n51_2"><use href="#Pr" x="136" y="2662"/></g><g id="n51_3"><use href="#Pr" x="188" y="2662"/></g><g id="n51_4"><use href="#Pr" x="240" y="2662"/></g><g id="n51_5"><use href="#Pr" x="292" y="2662"/></g><g id="n51_6"><use href="#Pr" x="344" y="2662"/></g><g id="n51_7"><use href="#Pr" x="396" y="2662"/></g><g id="n51_8"><use href="#Pr" x="448" y="2662"/></g><g id="n51_9"><use href="#Pr" x="500" y="2662"/></g>
<g id="n52_1"><use href="#Pl" x="84" y="2714"/></g><g id="n52_2"><use href="#Pl" x="136" y="2714"/></g><g id="n52_3"><use href="#Pl" x="188" y="2714"/></g><g id="n52_4"><use href="#Pl" x="240" y="2714"/></g><g id="n52_5"><use href="#Pl" x="292" y="2714"/></g><g id="n52_6"><use href="#Pl" x="344" y="2714"/></g><g id="n52_7"><use href="#Pl" x="396" y="2714"/></g><g id="n52_8"><use href="#Pl" x="448" y="2714"/></g><g id="n52_9"><use href="#Pl" x="500" y="2714"/></g>
</g>
<g id="stub-letters" class="st">
<text x="31" y="66" fill="#000">E</text>
<text x="31" y="274" fill="#fff">B</text>
<text x="31" y="1106" fill="#fff">G</text>
<text x="31" y="1158" fill="#000">E</text>
<text x="31" y="1210" fill="#000">A</text>
<text x="31" y="1574" fill="#000">A</text>
<text x="31" y="1678" fill="#fff">F</text>
<text x="31" y="2510" fill="#fff">B</text>
<text x="31" y="2718" fill="#000">D</text>
<text x="555" y="1210" fill="#fff" text-anchor="end">G</text>
<text x="555" y="1262" fill="#fff" text-anchor="end">C</text>
<text x="555" y="1366" fill="#000" text-anchor="end">D</text>
<text x="555" y="1574" fill="#fff" text-anchor="end">F</text>
</g>
<g id="row-numbers-left" class="lb" text-anchor="end">
<text x="21" y="66">1</text><text x="21" y="118">2</text><text x="21" y="170">3</text><text x="21" y="222">4</text><text x="21" y="274">5</text><text x="21" y="326">6</text><text x="21" y="378">7</text><text x="21" y="430">8</text><text x="21" y="482">9</text><text x="21" y="534">10</text><text x="21" y="586">11</text><text x="21" y="638">12</text><text x="21" y="690">13</text><text x="21" y="742">14</text><text x="21" y="794">15</text><text x="21" y="846">16</text><text x="21" y="898">17</text><text x="21" y="950">18</text><text x="21" y="1002">19</text><text x="21" y="1054">20</text><text x="21" y="1106">21</text><text x="21" y="1158">22</text><text x="21" y="1210">23</text><text x="21" y="1262">24</text><text x="21" y="1314">25</text><text x="21" y="1366">26</text><text x="21" y="1418">27</text><text x="21" y="1470">28</text><text x="21" y="1522">29</text><text x="21" y="1574">30</text><text x="21" y="1626">31</text><text x="21" y="1678">32</text><text x="21" y="1730">33</text><text x="21" y="1782">34</text><text x="21" y="1834">35</text><text x="21" y="1886">36</text><text x="21" y="1938">37</text><text x="21" y="1990">38</text><text x="21" y="2042">39</text><text x="21" y="2094">40</text><text x="21" y="2146">41</text><text x="21" y="2198">42</text><text x="21" y="2250">43</text><text x="21" y="2302">44</text><text x="21" y="2354">45</text><text x="21" y="2406">46</text><text x="21" y="2458">47</text><text x="21" y="2510">48</text><text x="21" y="2562">49</text><text x="21" y="2614">50</text><text x="21" y="2666">51</text><text x="21" y="2718">52</text>
</g>
<g id="row-numbers-right" class="lb">
<text x="562" y="66">1</text><text x="562" y="118">2</text><text x="562" y="170">3</text><text x="562" y="222">4</text><text x="562" y="274">5</text><text x="562" y="326">6</text><text x="562" y="378">7</text><text x="562" y="430">8</text><text x="562" y="482">9</text><text x="562" y="534">10</text><text x="562" y="586">11</text><text x="562" y="638">12</text><text x="562" y="690">13</text><text x="562" y="742">14</text><text x="562" y="794">15</text><text x="562" y="846">16</text><text x="562" y="898">17</text><text x="562" y="950">18</text><text x="562" y="1002">19</text><text x="562" y="1054">20</text><text x="562" y="1106">21</text><text x="562" y="1158">22</text><text x="562" y="1210">23</text><text x="562" y="1262">24</text><text x="562" y="1314">25</text><text x="562" y="1366">26</text><text x="562" y="1418">27</text><text x="562" y="1470">28</text><text x="562" y="1522">29</text><text x="562" y="1574">30</text><text x="562" y="1626">31</text><text x="562" y="1678">32</text><text x="562" y="1730">33</text><text x="562" y="1782">34</text><text x="562" y="1834">35</text><text x="562" y="1886">36</text><text x="562" y="1938">37</text><text x="562" y="1990">38</text><text x="562" y="2042">39</text><text x="562" y="2094">40</text><text x="562" y="2146">41</text><text x="562" y="2198">42</text><text x="562" y="2250">43</text><text x="562" y="2302">44</text><text x="562" y="2354">45</text><text x="562" y="2406">46</text><text x="562" y="2458">47</text><text x="562" y="2510">48</text><text x="562" y="2562">49</text><text x="562" y="2614">50</text><text x="562" y="2666">51</text><text x="562" y="2718">52</text>
</g>
<text id="watermark" x="292" y="1393" text-anchor="middle" font-family="'Liberation Sans',Arial,sans-serif" font-weight="bold" font-size="16" fill="#444" textLength="154" lengthAdjust="spacingAndGlyphs">BRACELETBOOK.COM</text>
</svg>
